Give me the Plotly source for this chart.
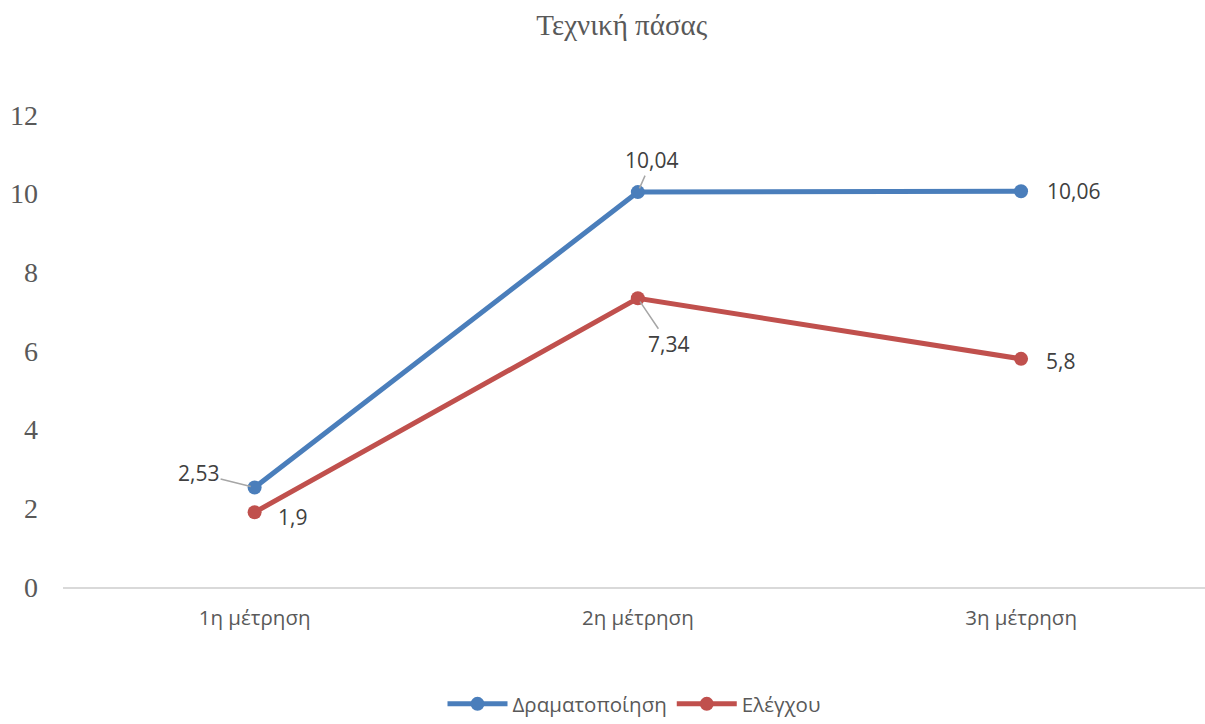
import plotly.graph_objects as go

categories = ["1η μέτρηση", "2η μέτρηση", "3η μέτρηση"]
series_names = ["Δραματοποίηση", "Ελέγχου"]
drama = [2.53, 10.04, 10.06]
control = [1.9, 7.34, 5.8]
y_ticks = [0, 2, 4, 6, 8, 10, 12]

colors = ["#4A7EBB", "#C0504D"]

fig = go.Figure()
for name, vals, col in zip(series_names, [drama, control], colors):
    fig.add_trace(go.Scatter(
        x=categories, y=vals, name=name, mode="lines+markers",
        line=dict(color=col, width=5),
        marker=dict(color=col, size=14),
    ))

def fmt(v):
    return str(v).replace(".", ",")

label_font = dict(family="Open Sans, Liberation Sans, sans-serif", size=21, color="#404040")
# (series values, index, ax, ay, arrow)
label_specs = [
    (drama, 0, -56, -14, True),
    (control, 0, 38, 5, False),
    (drama, 1, 14, -32, True),
    (control, 1, 31, 46, True),
    (drama, 2, 52, 0, False),
    (control, 2, 39, 2, False),
]
for vals, i, ax, ay, arrow in label_specs:
    if arrow:
        fig.add_annotation(x=categories[i], y=vals[i], text=fmt(vals[i]),
                           showarrow=True, arrowhead=0, arrowwidth=1.5,
                           arrowcolor="#A6A6A6", ax=ax, ay=ay, standoff=4,
                           font=label_font)
    else:
        fig.add_annotation(x=categories[i], y=vals[i], text=fmt(vals[i]),
                           showarrow=False, xshift=ax, yshift=-ay,
                           font=label_font)

fig.update_layout(
    width=1205, height=724,
    margin=dict(l=63, r=0, t=115, b=137),
    paper_bgcolor="white", plot_bgcolor="white",
    title=dict(text="Τεχνική πάσας", x=0.516, xref="container", xanchor="center",
               y=1 - 25 / 724, yref="container", yanchor="middle",
               font=dict(family="Liberation Serif, Times New Roman, serif", size=29, color="#595959")),
    xaxis=dict(type="category", range=[-0.5, 2.48], showgrid=False, zeroline=False,
               showline=True, linecolor="#D9D9D9", linewidth=2, ticks="",
               tickfont=dict(family="Open Sans, Liberation Sans, sans-serif", size=20.5, color="#595959"),
               ticklabelstandoff=11),
    yaxis=dict(range=[0, 12], tickvals=y_ticks, showgrid=False, zeroline=False,
               showline=False, ticks="",
               tickfont=dict(family="Liberation Serif, Times New Roman, serif", size=28, color="#595959"),
               ticklabelstandoff=24),
    showlegend=True,
    legend=dict(orientation="h", x=0.5, xanchor="center", y=0, yref="container",
                yanchor="bottom", itemwidth=60,
                font=dict(family="Open Sans, Liberation Sans, sans-serif", size=20.5, color="#595959")),
)

fig.write_html("out.html")
